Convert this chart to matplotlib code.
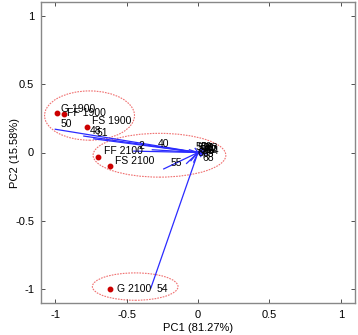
import matplotlib
matplotlib.use("Agg")
import matplotlib.pyplot as plt
from matplotlib.patches import Ellipse

plt.rcParams['font.family'] = ['Liberation Sans', 'DejaVu Sans']

# scores (samples)
sample_names = ["G 1900", "FF 1900", "FS 1900", "FF 2100", "FS 2100", "G 2100"]
sample_x = [-0.99, -0.94, -0.78, -0.70, -0.62, -0.62]
sample_y = [0.29, 0.28, 0.19, -0.03, -0.10, -1.00]
sample_lx = [-0.96, -0.92, -0.74, -0.66, -0.58, -0.57]
sample_ly = [0.32, 0.29, 0.23, 0.01, -0.06, -1.00]

# loadings (variables)
var_names = ["50", "48", "51", "2", "40", "55", "54",
             "56", "57", "58", "59", "60", "61", "62", "63", "64", "65", "66", "67", "68"]
var_x = [-1.00, -0.80, -0.73, -0.45, -0.32, -0.24, -0.33,
         -0.05, -0.08, -0.03, -0.06, 0.02, 0.04, 0.05, 0.07, 0.06, 0.03, -0.02, 0.05, 0.02]
var_y = [0.17, 0.12, 0.10, 0.01, 0.02, -0.12, -0.99,
         -0.06, -0.08, -0.07, 0.02, 0.02, 0.03, 0.01, 0.02, -0.01, -0.02, 0.03, 0.0, -0.03]
var_lx = [-0.96, -0.757, -0.708, -0.42, -0.28, -0.19, -0.29,
          -0.02, 0.0, 0.01, 0.02, 0.03, 0.04, 0.05, 0.06, 0.07, 0.03, 0.0, 0.05, 0.03]
var_ly = [0.21, 0.155, 0.145, 0.05, 0.065, -0.08, -1.00,
          0.04, 0.03, 0.02, 0.04, 0.03, 0.035, 0.02, 0.03, 0.01, -0.01, 0.0, 0.015, -0.04]

# group ellipses: center x, center y, width, height
ell_cx = [-0.76, -0.27, -0.44]
ell_cy = [0.27, -0.02, -0.98]
ell_w = [0.63, 0.93, 0.60]
ell_h = [0.36, 0.32, 0.20]

fig = plt.figure(figsize=(3.58, 3.35), dpi=100)
ax = fig.add_axes([41/358, 32/335, 314/358, 301/335])

for x, y in zip(var_x, var_y):
    ax.plot([0, x], [0, y], color='#2b2bff', lw=0.9, zorder=2)
for n, x, y in zip(var_names, var_lx, var_ly):
    ax.text(x, y, n, fontsize=7.5, ha='left', va='center', color='black', zorder=4)

for cx, cy, w, h in zip(ell_cx, ell_cy, ell_w, ell_h):
    ax.add_patch(Ellipse((cx, cy), w, h, fill=False, edgecolor='#f07070',
                         lw=0.8, ls=(0, (1.5, 1)), zorder=1))

ax.plot(sample_x, sample_y, 'o', color='#cc0000', markersize=3.2, zorder=3)
for n, x, y in zip(sample_names, sample_lx, sample_ly):
    ax.text(x, y, n, fontsize=7.5, ha='left', va='center', color='black', zorder=4)

ax.set_xlim(-1.1, 1.1)
ax.set_ylim(-1.1, 1.1)
ticks = [-1, -0.5, 0, 0.5, 1]
ax.set_xticks(ticks)
ax.set_yticks(ticks)
ax.set_xticklabels(["-1", "-0.5", "0", "0.5", "1"])
ax.set_yticklabels(["-1", "-0.5", "0", "0.5", "1"])
ax.tick_params(direction='in', top=True, right=True, length=3, width=0.6,
               labelsize=8, colors='#333333', labelcolor='black')
ax.tick_params(axis='y', pad=5)
ax.tick_params(axis='x', pad=5)
for s in ax.spines.values():
    s.set_color('#888888')
    s.set_linewidth(1.0)
ax.set_xlabel("PC1 (81.27%)", fontsize=8, labelpad=2)
ax.set_ylabel("PC2 (15.58%)", fontsize=8)
ax.yaxis.set_label_coords(-0.067, 0.5)

fig.savefig("out.png", dpi=100)
